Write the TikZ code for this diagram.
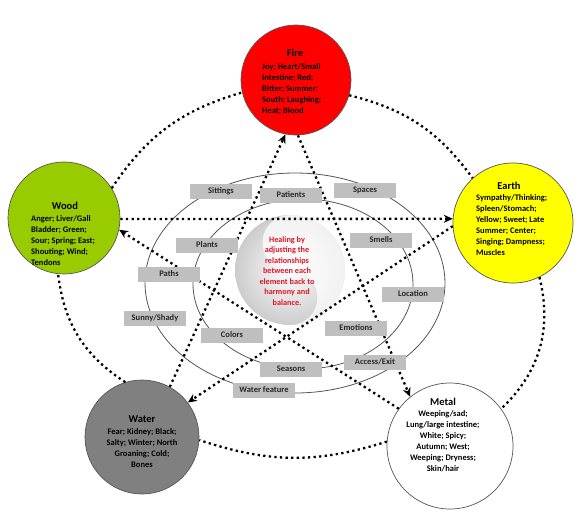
\documentclass[tikz,border=0pt]{standalone}
\usepackage{fontspec}
\setmainfont{Carlito}
\usetikzlibrary{arrows.meta,shapes.geometric}
\definecolor{firered}{RGB}{255,0,0}
\definecolor{woodgreen}{RGB}{153,204,0}
\definecolor{earthyellow}{RGB}{255,255,0}
\definecolor{watergray}{RGB}{128,128,128}
\definecolor{boxgray}{RGB}{191,191,191}
\definecolor{healred}{RGB}{225,20,40}
\definecolor{ringgray}{RGB}{85,85,85}
\begin{document}
\begin{tikzpicture}[x=1pt,y=-1pt,
  elem/.style={circle,draw=ringgray,line width=0.7pt,inner sep=0pt},
  ttl/.style={font=\bfseries\fontsize{10.5}{12}\selectfont,inner sep=0pt},
  body/.style={font=\bfseries\fontsize{8.5}{10.9}\selectfont,inner sep=0pt},
  lbl/.style={fill=boxgray,minimum width=62pt,minimum height=15pt,inner sep=0pt,font=\bfseries\fontsize{8.5}{10}\selectfont,text=black!85},
  dots/.style={line width=2.3pt,dash pattern=on 2.3pt off 3.3pt},
  arr/.style={dots,-{Stealth[length=9pt,width=8pt]}},
  ring/.style={draw=ringgray,line width=0.8pt}
]
\useasboundingbox (0,0) rectangle (583,523);

% rings
\draw[ring] (295,283) ellipse [x radius=150, y radius=110];
\draw[ring] (303,284) ellipse [x radius=110, y radius=85];

% yin-yang disc
\shade[inner color=white, outer color=gray!40] (290,270) circle [radius=55];
\begin{scope}[shift={(290,270)}, x=1pt, y=1pt]
  \fill[white, opacity=0.75] (0,55) arc[start angle=90, end angle=-90, radius=55]
     arc[start angle=-90, end angle=90, radius=27.5]
     arc[start angle=270, end angle=90, radius=27.5] -- cycle;
\end{scope}

% element circles
\node[elem,fill=firered,minimum size=110pt] (fire) at (296,80) {};
\node[elem,fill=woodgreen,minimum size=112pt] (wood) at (64,218) {};
\node[elem,fill=earthyellow,minimum size=120pt] (earth) at (513,223) {};
\node[elem,fill=watergray,minimum size=114pt] (water) at (142,437) {};
\node[elem,fill=white,minimum size=126pt] (metal) at (450,446) {};

% generating cycle (arcs)
\draw[dots] (fire.344) to[bend left=20] (earth.132);
\draw[dots] (earth.296) to[bend left=30] (metal.36);
\draw[dots] (metal.176) to[bend left=18] (water.357);
\draw[dots] (water.107) to[bend left=25] (wood.264);
\draw[dots] (wood.32) to[bend left=20] (fire.193);

% controlling cycle (star)
\draw[arr] (water.61) -- (fire.259);
\draw[arr] (fire.272) -- (metal.129);
\draw[arr] (metal.144) -- (wood.-12);
\draw[arr] (wood.-1) -- (earth.176);
\draw[arr] (earth.183) -- (water.37);

% labels
\node[lbl] (sittings) at (221,191) {Sittings};
\node[lbl] (patients) at (291,195) {Patients};
\node[lbl] (spaces) at (365,190) {Spaces};
\node[lbl] (plants) at (207,245) {Plants};
\node[lbl] (smells) at (381,240) {Smells};
\node[lbl] (paths) at (169,274) {Paths};
\node[lbl] (location) at (413,294) {Location};
\node[lbl] (sunny) at (155,318) {Sunny/Shady};
\node[lbl] (colors) at (232,335) {Colors};
\node[lbl] (emotions) at (356,328) {Emotions};
\node[lbl] (seasons) at (291,369) {Seasons};
\node[lbl] (access) at (375,362) {Access/Exit};
\node[lbl] (waterfeat) at (264,390) {Water feature};

% centre text
\node[font=\bfseries\fontsize{8.2}{10.5}\selectfont, text=healred, align=center, inner sep=0pt] (heal) at (287,271)
  {Healing by\\adjusting the\\relationships\\between each\\element back to\\harmony and\\balance.};

% element texts
\node[ttl] (fireT) at (295,53) {Fire};
\node[body,align=left,anchor=north west] (fireB) at (262,63.5)
  {Joy; Heart/Small\\Intestine; Red;\\Bitter; Summer;\\South; Laughing;\\Heat; Blood};
\node[ttl] (woodT) at (65,206) {Wood};
\node[body,align=left,anchor=north west] (woodB) at (31,215.5)
  {Anger; Liver/Gall\\Bladder; Green;\\Sour; Spring; East;\\Shouting; Wind;\\Tendons};
\node[ttl] (earthT) at (509,186) {Earth};
\node[body,align=left,anchor=north west] (earthB) at (476,194.5)
  {Sympathy/Thinking;\\Spleen/Stomach;\\Yellow; Sweet; Late\\Summer; Center;\\Singing; Dampness;\\Muscles};
\node[ttl] (waterT) at (142,419) {Water};
\node[body,align=center,anchor=north] (waterB) at (142,428.5)
  {Fear; Kidney; Black;\\Salty; Winter; North\\Groaning; Cold;\\Bones};
\node[ttl] (metalT) at (443,402) {Metal};
\node[body,align=center,anchor=north] (metalB) at (443,410.5)
  {Weeping/sad;\\Lung/large intestine;\\White; Spicy;\\Autumn; West;\\Weeping; Dryness;\\Skin/hair};
\end{tikzpicture}
\end{document}
